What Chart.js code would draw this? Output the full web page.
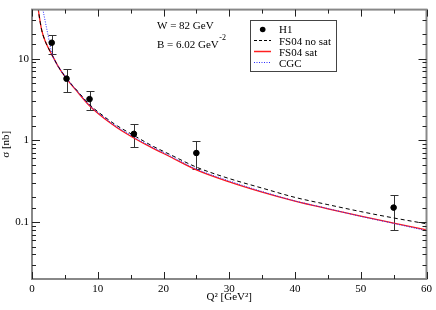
<!DOCTYPE html>
<html><head><meta charset="utf-8">
<script src="https://cdn.jsdelivr.net/npm/chart.js@4"></script>
<style>html,body{margin:0;padding:0;background:#fff}canvas{display:block}</style>
</head><body>
<canvas id="c" width="436" height="310"></canvas>
<script>
// ---- data ----
const h1Q2    = [3.0, 5.25, 8.75, 15.5, 25.0, 55.0];
const h1Sigma = [15.7, 5.7, 3.2, 1.2, 0.70, 0.15];
const h1Lo    = [11.4, 3.9, 2.37, 0.82, 0.44, 0.08];
const h1Hi    = [19.6, 7.5, 4.05, 1.6, 0.97, 0.216];

const fsNoSatQ2    = [0.8, 1.0, 1.25, 1.5, 2.0, 2.5, 3.0, 4.0, 5.25, 7.0, 8.75, 11, 13, 15.5, 18, 21, 25, 30, 35, 40, 45, 50, 55, 60];
const fsNoSatSigma = [52, 38, 28, 22, 16.5, 13.5, 11.3, 8.0, 5.75, 3.95, 2.75, 1.95, 1.5, 1.15, 0.88, 0.67, 0.47, 0.34, 0.26, 0.2, 0.163, 0.134, 0.112, 0.095];

const fsSatQ2    = [0.8, 1.0, 1.25, 1.5, 2.0, 2.5, 3.0, 4.0, 5.25, 7.0, 8.75, 11, 13, 15.5, 18, 21, 25, 30, 35, 40, 45, 50, 55, 60];
const fsSatSigma = [52, 38, 28, 22, 16.5, 13.5, 11.3, 8.0, 5.7, 3.85, 2.65, 1.85, 1.42, 1.07, 0.83, 0.63, 0.435, 0.31, 0.232, 0.18, 0.145, 0.118, 0.097, 0.08];

const cgcQ2    = [1.5, 1.67, 2.0, 2.43, 2.75, 3.0, 3.5, 4.0, 5.25, 7.0, 8.75, 11, 13, 15.5, 18, 21, 25, 30, 35, 40, 45, 50, 55, 60];
const cgcSigma = [50, 40, 29, 19.6, 14.5, 11.8, 9.4, 8.0, 5.75, 3.9, 2.68, 1.9, 1.45, 1.1, 0.85, 0.645, 0.445, 0.318, 0.236, 0.181, 0.146, 0.117, 0.096, 0.078];

const yTickValues = [0.1, 1, 10];
const yTickLabels = ['0.1', '1', '10'];
const legendLabels = ['H1', 'FS04 no sat', 'FS04 sat', 'CGC'];
const noteLines = ['W = 82 GeV', 'B = 6.02 GeV'];
const noteSup = '-2';

const FONT = '"Liberation Serif", "Times New Roman", serif';
const pts = (xs, ys) => xs.map((v, i) => ({x: v, y: ys[i]}));

const decor = {
  id: 'decor',
  beforeDatasetsDraw(chart) {
    const {ctx, scales: {x, y}} = chart;
    ctx.save();
    ctx.strokeStyle = '#333'; ctx.lineWidth = 1;
    h1Q2.forEach((q, i) => {
      const px = Math.round(x.getPixelForValue(q)) + 0.5;
      const yl = Math.round(y.getPixelForValue(h1Lo[i])) + 0.5;
      const yh = Math.round(y.getPixelForValue(h1Hi[i])) + 0.5;
      ctx.beginPath();
      ctx.moveTo(px, yl); ctx.lineTo(px, yh);
      ctx.moveTo(px - 4, yl); ctx.lineTo(px + 4, yl);
      ctx.moveTo(px - 4, yh); ctx.lineTo(px + 4, yh);
      ctx.stroke();
    });
    ctx.restore();
  },
  afterDraw(chart) {
    const {ctx, chartArea: a, scales: {x, y}} = chart;
    ctx.save();
    // frame
    ctx.strokeStyle = '#888'; ctx.lineWidth = 2;
    ctx.strokeRect(a.left, a.top, a.right - a.left, a.bottom - a.top);
    // inward ticks
    ctx.strokeStyle = '#222'; ctx.lineWidth = 1;
    ctx.beginPath();
    const xv = x.ticks.map(t => t.value);
    xv.forEach((v, i) => {
      const px = Math.round(x.getPixelForValue(v)) + 0.5;
      ctx.moveTo(px, a.bottom); ctx.lineTo(px, a.bottom - 7);
      ctx.moveTo(px, a.top); ctx.lineTo(px, a.top + 7);
      if (i < xv.length - 1) {
        const pm = Math.round(x.getPixelForValue((v + xv[i + 1]) / 2)) + 0.5;
        ctx.moveTo(pm, a.bottom); ctx.lineTo(pm, a.bottom - 4);
        ctx.moveTo(pm, a.top); ctx.lineTo(pm, a.top + 4);
      }
    });
    y.ticks.forEach(t => {
      const v = t.value;
      const lg = Math.log10(v);
      const major = Math.abs(lg - Math.round(lg)) < 1e-6;
      const len = major ? 8 : 4;
      const py = Math.round(y.getPixelForValue(v)) + 0.5;
      if (py < a.top + 1 || py > a.bottom - 1) return;
      ctx.moveTo(a.left, py); ctx.lineTo(a.left + len, py);
      ctx.moveTo(a.right, py); ctx.lineTo(a.right - len, py);
    });
    ctx.stroke();

    // annotation
    ctx.fillStyle = '#000';
    ctx.font = '11px ' + FONT;
    ctx.textBaseline = 'alphabetic'; ctx.textAlign = 'left';
    ctx.fillText(noteLines[0], 157, 29);
    ctx.fillText(noteLines[1], 157, 47.5);
    const w = ctx.measureText(noteLines[1]).width;
    ctx.font = '8px ' + FONT;
    ctx.fillText(noteSup, 157 + w + 0.5, 40);

    // legend
    ctx.fillStyle = '#fff';
    ctx.fillRect(250, 20, 86, 51);
    ctx.strokeStyle = '#444'; ctx.lineWidth = 1;
    ctx.strokeRect(250.5, 20.5, 86, 51);
    ctx.font = '11px ' + FONT; ctx.fillStyle = '#000';
    const base = [33, 45, 56, 67];
    const ly = [29.5, 40.5, 51.5, 62.5];
    legendLabels.forEach((s, i) => ctx.fillText(s, 279, base[i]));
    ctx.beginPath(); ctx.arc(262.7, ly[0], 2.8, 0, Math.PI * 2); ctx.fill();
    ctx.lineWidth = 1;
    ctx.strokeStyle = '#000'; ctx.setLineDash([3, 2]);
    ctx.beginPath(); ctx.moveTo(254, ly[1]); ctx.lineTo(271, ly[1]); ctx.stroke();
    ctx.strokeStyle = '#ff2020'; ctx.setLineDash([]); ctx.lineWidth = 1.5;
    ctx.beginPath(); ctx.moveTo(254, ly[2]); ctx.lineTo(271, ly[2]); ctx.stroke();
    ctx.strokeStyle = '#2a2aff'; ctx.setLineDash([1, 1.5]); ctx.lineWidth = 1;
    ctx.beginPath(); ctx.moveTo(254, ly[3]); ctx.lineTo(271, ly[3]); ctx.stroke();
    ctx.restore();
  }
};

new Chart(document.getElementById('c'), {
  type: 'scatter',
  data: {
    datasets: [
      {label: legendLabels[0], data: pts(h1Q2, h1Sigma), backgroundColor: '#000', borderColor: '#000', pointRadius: 2.8, showLine: false},
      {label: legendLabels[3], data: pts(cgcQ2, cgcSigma), showLine: true, borderColor: '#2a2aff', borderWidth: 1, borderDash: [1, 1.5], pointRadius: 0, cubicInterpolationMode: 'monotone', fill: false},
      {label: legendLabels[1], data: pts(fsNoSatQ2, fsNoSatSigma), showLine: true, borderColor: '#000', borderWidth: 1, borderDash: [4, 3], pointRadius: 0, cubicInterpolationMode: 'monotone', fill: false},
      {label: legendLabels[2], data: pts(fsSatQ2, fsSatSigma), showLine: true, borderColor: '#ff1a1a', borderWidth: 1.3, pointRadius: 0, cubicInterpolationMode: 'monotone', fill: false}
    ]
  },
  options: {
    responsive: false, animation: false,
    layout: {padding: {top: 1, right: 7, left: 0, bottom: 0}},
    plugins: {legend: {display: false}, tooltip: {enabled: false}},
    scales: {
      x: {
        type: 'linear', min: 0, max: 60,
        afterFit: s => { s.height = 31; },
        ticks: {stepSize: 10, color: '#000', font: {family: FONT, size: 11}, padding: 4, maxRotation: 0},
        grid: {display: false, drawTicks: false},
        border: {display: false},
        title: {display: true, text: 'Q² [GeV²]', color: '#000', font: {family: FONT, size: 11}, padding: {top: 0, bottom: 6}}
      },
      y: {
        type: 'logarithmic', min: 0.02, max: 40,
        afterFit: s => { s.width = 32; },
        ticks: {
          autoSkip: false, color: '#000', font: {family: FONT, size: 11}, padding: 3,
          callback: v => {
            const i = yTickValues.findIndex(t => Math.abs(t - v) / t < 1e-6);
            return i >= 0 ? yTickLabels[i] : '';
          }
        },
        grid: {display: false, drawTicks: false},
        border: {display: false},
        title: {display: true, text: 'σ [nb]', color: '#000', font: {family: FONT, size: 11}, padding: 0}
      }
    }
  },
  plugins: [decor]
});
</script>
</body></html>
